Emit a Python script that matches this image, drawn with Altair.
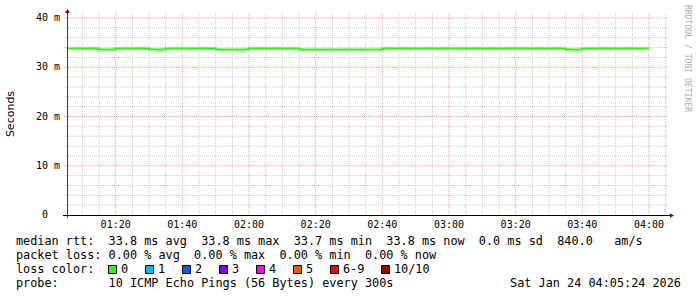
import altair as alt
import pandas as pd

# ---------------- data ----------------
times = ["01:05", "01:10", "01:15", "01:20", "01:25", "01:30", "01:35", "01:40",
         "01:45", "01:50", "01:55", "02:00", "02:05", "02:10", "02:15", "02:20",
         "02:25", "02:30", "02:35", "02:40", "02:45", "02:50", "02:55", "03:00",
         "03:05", "03:10", "03:15", "03:20", "03:25", "03:30", "03:35", "03:40",
         "03:45", "03:50", "03:55", "04:00"]
median_ms = [33.8, 33.8, 33.6, 33.8, 33.8, 33.6, 33.8, 33.8,
             33.8, 33.6, 33.6, 33.8, 33.8, 33.8, 33.6, 33.6,
             33.6, 33.6, 33.6, 33.8, 33.8, 33.8, 33.8, 33.8,
             33.8, 33.8, 33.8, 33.8, 33.8, 33.8, 33.6, 33.8,
             33.8, 33.8, 33.8, 33.8]
x_tick_labels = ["01:20", "01:40", "02:00", "02:20", "02:40", "03:00", "03:20", "03:40", "04:00"]
y_tick_values = [0, 10, 20, 30, 40]
y_tick_units = ["", "m", "m", "m", "m"]
plot_start, plot_end = "01:05:24", "04:05:24"

loss_labels = ["0", "1", "2", "3", "4", "5", "6-9", "10/10"]
loss_colors = ["#26ff00", "#00b8ff", "#0059ff", "#7e00ff", "#ff00ff", "#ff5500", "#ff0000", "#a10000"]

rtt_stats = {"avg": "33.8", "max": "33.8", "min": "33.7", "now": "33.8", "sd": "0.0", "am": "840.0"}
loss_stats = {"avg": "0.00", "max": "0.00", "min": "0.00", "now": "0.00"}
probe_text = "10 ICMP Echo Pings (56 Bytes) every 300s"
stamp_text = "Sat Jan 24 04:05:24 2026"


def to_min(s):
    p = [int(v) for v in s.split(":")]
    return p[0] * 60 + p[1] + (p[2] / 60 if len(p) > 2 else 0)


# ---------------- layout ----------------
L, T, W, H = 67, 18, 600, 197
MONO = "DejaVu Sans Mono"
FS = 11.83
NB = "\u00a0"
ax = lambda x: x - L
ay = lambda y: y - T

xs = alt.Scale(domain=[to_min(plot_start), to_min(plot_end)], nice=False, zero=False)
ys = alt.Scale(domain=[0, 40], nice=False, zero=False)

dummy = pd.DataFrame({"a": [0]})
line_df = pd.DataFrame({"t": [to_min(t) for t in times], "v": median_ms})

minor_x = pd.DataFrame({"t": [m for m in range(70, 246, 5) if m % 20 != 0]})
major_x = pd.DataFrame({"t": [to_min(t) for t in x_tick_labels]})
minor_y = pd.DataFrame({"v": [v for v in range(2, 41, 2) if v % 10 != 0]})
major_y = pd.DataFrame({"v": y_tick_values[1:]})

GRID_MINOR = "#c8c8c8"
GRID_MAJOR = "#eea2a2"

layers = []
layers.append(alt.Chart(minor_x).mark_rule(color=GRID_MINOR, strokeDash=[1, 1], strokeWidth=1).encode(
    x=alt.X("t:Q", scale=xs, axis=None), y=alt.value(-5), y2=alt.value(H + 1)))
layers.append(alt.Chart(minor_y).mark_rule(color=GRID_MINOR, strokeDash=[1, 1], strokeWidth=1).encode(
    y=alt.Y("v:Q", scale=ys, axis=None), x=alt.value(-3), x2=alt.value(W + 1)))
layers.append(alt.Chart(major_x).mark_rule(color=GRID_MAJOR, strokeDash=[1, 1], strokeWidth=1).encode(
    x=alt.X("t:Q", scale=xs, axis=None), y=alt.value(-5), y2=alt.value(H + 1)))
layers.append(alt.Chart(major_y).mark_rule(color=GRID_MAJOR, strokeDash=[1, 1], strokeWidth=1).encode(
    y=alt.Y("v:Q", scale=ys, axis=None), x=alt.value(-3), x2=alt.value(W + 1)))

# median line
layers.append(alt.Chart(line_df).mark_line(color="#26ff00", strokeWidth=2, interpolate="step-after", clip=True).encode(
    x=alt.X("t:Q", scale=xs, axis=None), y=alt.Y("v:Q", scale=ys, axis=None)))

# axes lines
layers.append(alt.Chart(dummy).mark_rule(color="#2c4d43", strokeWidth=1).encode(
    x=alt.value(0.5), y=alt.value(-6), y2=alt.value(H + 3)))
layers.append(alt.Chart(dummy).mark_rule(color="#000000", strokeWidth=1).encode(
    y=alt.value(H + 0.5), x=alt.value(-4), x2=alt.value(W + 3)))
layers.append(alt.Chart(dummy).mark_point(shape="triangle-up", filled=True, size=22, color="#7f0000", opacity=1).encode(
    x=alt.value(0.5), y=alt.value(-7)))
layers.append(alt.Chart(dummy).mark_point(shape="triangle-right", filled=True, size=22, color="#7f0000", opacity=1).encode(
    x=alt.value(W + 5), y=alt.value(H + 0.5)))

# axis labels
xl = pd.DataFrame({"t": [to_min(t) for t in x_tick_labels], "lab": x_tick_labels})
layers.append(alt.Chart(xl).mark_text(font=MONO, fontSize=10, color="black", align="center", baseline="alphabetic").encode(
    x=alt.X("t:Q", scale=xs, axis=None), y=alt.value(ay(228)), text="lab:N"))
yl = pd.DataFrame({"v": y_tick_values, "num": [str(v) for v in y_tick_values], "unit": y_tick_units})
layers.append(alt.Chart(yl).mark_text(font=MONO, fontSize=10, color="black", align="right", baseline="middle").encode(
    y=alt.Y("v:Q", scale=ys, axis=None), x=alt.value(ax(48)), text="num:N"))
layers.append(alt.Chart(yl).mark_text(font=MONO, fontSize=10, color="black", align="left", baseline="middle").encode(
    y=alt.Y("v:Q", scale=ys, axis=None), x=alt.value(ax(54)), text="unit:N"))

# titles
layers.append(alt.Chart(dummy).mark_text(text="Seconds", font="DejaVu Sans", fontSize=11, color="black",
                                         angle=270, align="center", baseline="middle").encode(
    x=alt.value(ax(11)), y=alt.value(ay(114))))
layers.append(alt.Chart(dummy).mark_text(text="RRDTOOL / TOBI OETIKER", font=MONO, fontSize=8.1, color="#b0b0b0",
                                         angle=90, align="left", baseline="middle").encode(
    x=alt.value(ax(686.5)), y=alt.value(ay(5))))


def row(s, x, y, align="left"):
    return alt.Chart(dummy).mark_text(text=s.replace(" ", NB), font=MONO, fontSize=FS, color="black",
                                      align=align, baseline="alphabetic").encode(
        x=alt.value(ax(x)), y=alt.value(ay(y)))


r = rtt_stats
row1 = (f"median rtt:  {r['avg']} ms avg  {r['max']} ms max  {r['min']} ms min  "
        f"{r['now']} ms now  {r['sd']} ms sd  {r['am']}   am/s")
p = loss_stats
row2 = f"packet loss: {p['avg']} % avg  {p['max']} % max  {p['min']} % min  {p['now']} % now"
layers.append(row(row1, 16, 245))
layers.append(row(row2, 16, 259))
layers.append(row("loss color:", 16, 273))
layers.append(row("probe:       " + probe_text, 16, 287))
layers.append(row(stamp_text, 681, 287, align="right"))

# loss colour legend boxes
bx, pos = 108, []
for lab in loss_labels:
    pos.append(bx)
    bx += 30 + 7 * len(lab)
leg = pd.DataFrame({
    "x1": [ax(b + 0.5) for b in pos], "x2": [ax(b + 8.5) for b in pos],
    "y1": [ay(265.5)] * len(pos), "y2": [ay(273.5)] * len(pos),
    "tx": [ax(b + 13) for b in pos], "ty": [ay(273)] * len(pos),
    "lab": loss_labels, "col": loss_colors,
})
layers.append(alt.Chart(leg).mark_rect(stroke="black", strokeWidth=1).encode(
    x=alt.X("x1:Q", scale=None), x2="x2:Q", y=alt.Y("y1:Q", scale=None), y2="y2:Q",
    fill=alt.Fill("col:N", scale=None)))
layers.append(alt.Chart(leg).mark_text(font=MONO, fontSize=FS, color="black", align="left", baseline="alphabetic").encode(
    x=alt.X("tx:Q", scale=None), y=alt.Y("ty:Q", scale=None), text="lab:N"))

chart = alt.layer(*layers).properties(
    width=W, height=H, autosize="none", background="white",
    padding={"left": L, "top": T, "right": 697 - L - W, "bottom": 297 - T - H},
).configure_view(stroke=None)

chart.save("out.html", embed_options={"renderer": "svg", "actions": False})
